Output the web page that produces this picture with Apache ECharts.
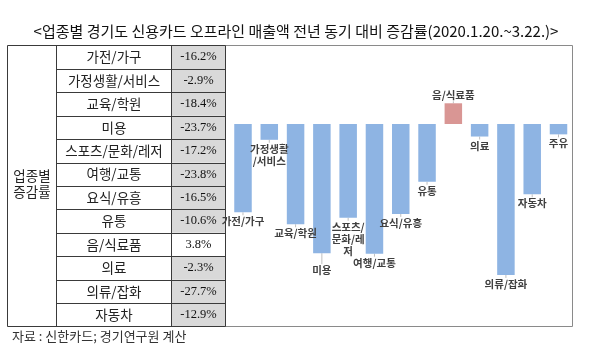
<!DOCTYPE html>
<html><head><meta charset="utf-8">
<script src="https://cdn.jsdelivr.net/npm/echarts@6/dist/echarts.min.js"></script>
<style>html,body{margin:0;padding:0;background:#fff}#c{width:593px;height:348px}</style>
</head><body><div id="c"></div>
<script>
var titleText = '<업종별 경기도 신용카드 오프라인 매출액 전년 동기 대비 증감률(2020.1.20.~3.22.)>';
var footText = '자료 : 신한카드; 경기연구원 계산';
var rowHeader = '업종별\n증감률';
var tableCategories = ['가전/가구','가정생활/서비스','교육/학원','미용','스포츠/문화/레저','여행/교통','요식/유흥','유통','음/식료품','의료','의류/잡화','자동차'];
var tableValues = [-16.2,-2.9,-18.4,-23.7,-17.2,-23.8,-16.5,-10.6,3.8,-2.3,-27.7,-12.9];
var chartCategories = ['가전/가구','가정생활/서비스','교육/학원','미용','스포츠/문화/레저','여행/교통','요식/유흥','유통','음/식료품','의료','의류/잡화','자동차','주유'];
var chartLabels = ['가전/가구','가정생활\n/서비스','교육/학원','미용','스포츠/\n문화/레\n저','여행/교통','요식/유흥','유통','음/식료품','의료','의류/잡화','자동차','주유'];
var chartValues = [-16.2,-2.9,-18.4,-23.7,-17.2,-23.8,-16.5,-10.6,3.8,-2.3,-27.7,-12.9,-1.9];

var KR = "'Noto Sans CJK KR', sans-serif";
var SERIF = "'Liberation Serif', serif";
var T = {left:7.5, c1:56.5, c2:171.5, right:225.5, top:45.5, bottom:326.5};
var rowH = (T.bottom - T.top) / tableCategories.length;
var lineColor = '#3a3a3a';

var g = [];
tableValues.forEach(function(v,i){
  if (v < 0) g.push({type:'rect', shape:{x:T.c2, y:T.top+i*rowH, width:T.right-T.c2, height:rowH}, style:{fill:'#d9d9d9'}, silent:true});
});
g.push({type:'rect', shape:{x:T.right, y:T.top, width:572.5-T.right, height:T.bottom-T.top}, style:{fill:'none', stroke:'#8a8a8a', lineWidth:1}});
g.push({type:'rect', shape:{x:T.left, y:T.top, width:T.right-T.left, height:T.bottom-T.top}, style:{fill:'none', stroke:lineColor, lineWidth:1}});
[T.c1, T.c2].forEach(function(x){
  g.push({type:'line', shape:{x1:x, y1:T.top, x2:x, y2:T.bottom}, style:{stroke:lineColor, lineWidth:1}});
});
for (var i=1;i<tableCategories.length;i++){
  var y = Math.round(T.top + i*rowH) + 0.5;
  g.push({type:'line', shape:{x1:T.c1, y1:y, x2:T.right, y2:y}, style:{stroke:lineColor, lineWidth:1}});
}
tableCategories.forEach(function(c,i){
  var cy = T.top + (i+0.5)*rowH;
  g.push({type:'text', x:(T.c1+T.c2)/2, y:cy, style:{text:c, font:'13.5px '+KR, fill:'#222', align:'center', verticalAlign:'middle'}});
  var v = tableValues[i];
  g.push({type:'text', x:(T.c2+T.right)/2, y:cy, style:{text:v.toFixed(1)+'%', font:'12.5px '+SERIF, fill:'#111', align:'center', verticalAlign:'middle'}});
});
g.push({type:'text', x:(T.left+T.c1)/2, y:184, style:{text:rowHeader, font:'13.5px '+KR, lineHeight:16, fill:'#222', align:'center', verticalAlign:'middle'}});
g.push({type:'text', x:296, y:31, style:{text:titleText, font:'15px '+KR, fill:'#111', align:'center', verticalAlign:'middle'}});
g.push({type:'text', x:12, y:336, style:{text:footText, font:'13px '+KR, fill:'#333', align:'left', verticalAlign:'middle'}});

var barData = chartValues.map(function(v,i){
  var pos = v >= 0;
  return {
    value: v,
    itemStyle: {color: pos ? '#d99694' : '#8eb4e3'},
    label: {show:true, position: pos ? 'top' : 'bottom', distance: pos ? 2 : 3, formatter: chartLabels[i]}
  };
});

var option = {
  animation:false,
  grid:{left:229.85, right:593-571.65, top:69.5, height:218, containLabel:false},
  xAxis:{type:'category', data:chartCategories, show:false},
  yAxis:{type:'value', min:-30, max:10, show:false},
  series:[{
    type:'bar', data:barData, barWidth:17.5,
    label:{show:true, color:'#404040', fontSize:10.5, fontFamily:KR, lineHeight:12, fontWeight:'bold'},
    labelLayout:function(p){ if (p.dataIndex===3) return {dy:8}; return {}; },
    labelLine:{show:true, lineStyle:{color:'#bfbfbf', width:1}}
  }],
  graphic:g
};
var chart = echarts.init(document.getElementById('c'), null, {renderer:'canvas'});
chart.setOption(option);
</script></body></html>
